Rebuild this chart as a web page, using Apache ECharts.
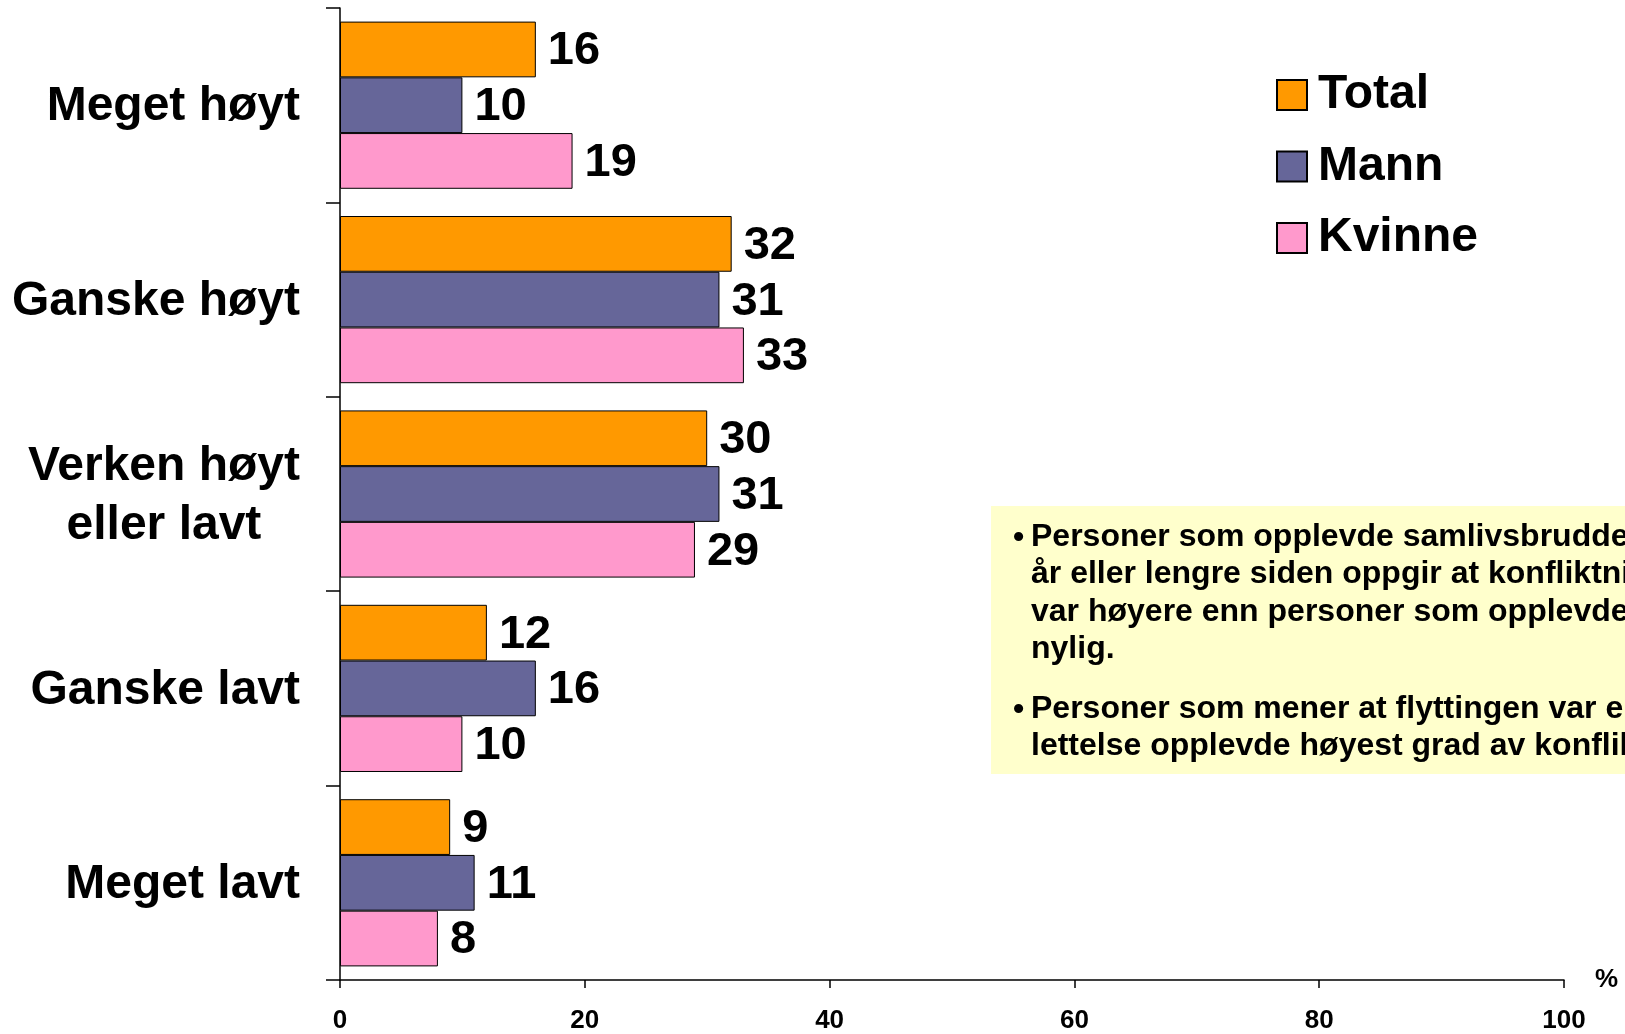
<!DOCTYPE html>
<html>
<head>
<meta charset="utf-8">
<script src="https://cdn.jsdelivr.net/npm/echarts@6/dist/echarts.min.js"></script>
<style>
    html, body { margin: 0; padding: 0; background: #ffffff; }
    #chart { width: 1625px; height: 1034px; }
</style>
</head>
<body>
<div id="chart"></div>
<script>
var categories = ['Meget høyt', 'Ganske høyt', 'Verken høyt\neller lavt', 'Ganske lavt', 'Meget lavt'];
var totalValues = [16, 32, 30, 12, 9];
var mannValues = [10, 31, 31, 16, 11];
var kvinneValues = [19, 33, 29, 10, 8];
var seriesNames = ['Total', 'Mann', 'Kvinne'];
var xTicks = [0, 20, 40, 60, 80, 100];
var note1 = ['Personer som opplevde samlivsbruddet for', 'år eller lengre siden oppgir at konfliktnivået', 'var høyere enn personer som opplevde det', 'nylig.'];
var note2 = ['Personer som mener at flyttingen var en', 'lettelse opplevde høyest grad av konflikt'];

var font = "'Liberation Sans', Arial, sans-serif";

dom = document.getElementById("chart");
myChart = echarts.init(dom);
option = null;

function barSeries(name, values, color) {
    return {
        name: name,
        type: 'bar',
        data: values,
        barGap: '0%',
        barCategoryGap: '14%',
        animation: false,
        itemStyle: {
            color: color,
            borderColor: '#000000',
            borderWidth: 1
        },
        label: {
            show: true,
            position: 'right',
            distance: 12,
            offset: [0, 2],
            color: '#000000',
            fontFamily: font,
            fontWeight: 'bold',
            fontSize: 47
        }
    };
}

option = {
    backgroundColor: '#ffffff',
    animation: false,
    grid: {
        left: 340,
        right: 61,
        top: 8,
        bottom: 52
    },
    legend: {
        orient: 'vertical',
        left: 1271,
        top: 63,
        itemWidth: 30,
        itemHeight: 30,
        itemGap: 17.5,
        icon: 'rect',
        data: seriesNames,
        textStyle: {
            color: '#000000',
            fontFamily: font,
            fontWeight: 'bold',
            fontSize: 48,
            lineHeight: 50,
            padding: [4, 0, 0, 6]
        }
    },
    xAxis: {
        type: 'value',
        min: xTicks[0],
        max: xTicks[xTicks.length - 1],
        interval: 20,
        name: '%',
        nameLocation: 'end',
        nameGap: 31,
        nameTextStyle: {
            color: '#000000',
            fontFamily: font,
            fontWeight: 'bold',
            fontSize: 26,
            verticalAlign: 'middle',
            padding: [8, 0, 0, 0]
        },
        splitLine: { show: false },
        axisLine: { show: true, lineStyle: { color: '#000000', width: 1.5 } },
        axisTick: { show: true, length: 8, lineStyle: { color: '#000000', width: 1.5 } },
        axisLabel: {
            margin: 28,
            color: '#000000',
            fontFamily: font,
            fontWeight: 'bold',
            fontSize: 26
        }
    },
    yAxis: {
        type: 'category',
        inverse: true,
        data: categories,
        axisLine: { show: true, lineStyle: { color: '#000000', width: 1.5 } },
        axisTick: { show: true, length: 14, alignWithLabel: false, lineStyle: { color: '#000000', width: 1.5 } },
        axisLabel: {
            margin: 40,
            color: '#000000',
            formatter: function (value) {
                return value.split('\n').map(function (s) { return '{c|' + s + '}'; }).join('\n');
            },
            rich: {
                c: {
                    align: 'center',
                    color: '#000000',
                    fontFamily: font,
                    fontWeight: 'bold',
                    fontSize: 48,
                    lineHeight: 59,
                    padding: [4, 0, 0, 0]
                }
            }
        }
    },
    graphic: [
        {
            type: 'rect',
            left: 991,
            top: 506,
            shape: { width: 700, height: 268 },
            style: { fill: '#FFFFCC' },
            z: 1
        },
        {
            type: 'text', left: 1013, top: 522, z: 2,
            style: { text: '•', fill: '#000000', font: 'bold 32px ' + font }
        },
        {
            type: 'text', left: 1031, top: 518, z: 2,
            style: { text: note1.join('\n'), fill: '#000000', font: 'bold 32px ' + font, lineHeight: 37.5 }
        },
        {
            type: 'text', left: 1013, top: 694, z: 2,
            style: { text: '•', fill: '#000000', font: 'bold 32px ' + font }
        },
        {
            type: 'text', left: 1031, top: 690, z: 2,
            style: { text: note2.join('\n'), fill: '#000000', font: 'bold 32px ' + font, lineHeight: 37.5 }
        }
    ],
    series: [
        barSeries(seriesNames[0], totalValues, '#FF9900'),
        barSeries(seriesNames[1], mannValues, '#666699'),
        barSeries(seriesNames[2], kvinneValues, '#FF99CC')
    ]
};

if (option && typeof option === "object") {
    myChart.setOption(option, true);
}
</script>
</body>
</html>
